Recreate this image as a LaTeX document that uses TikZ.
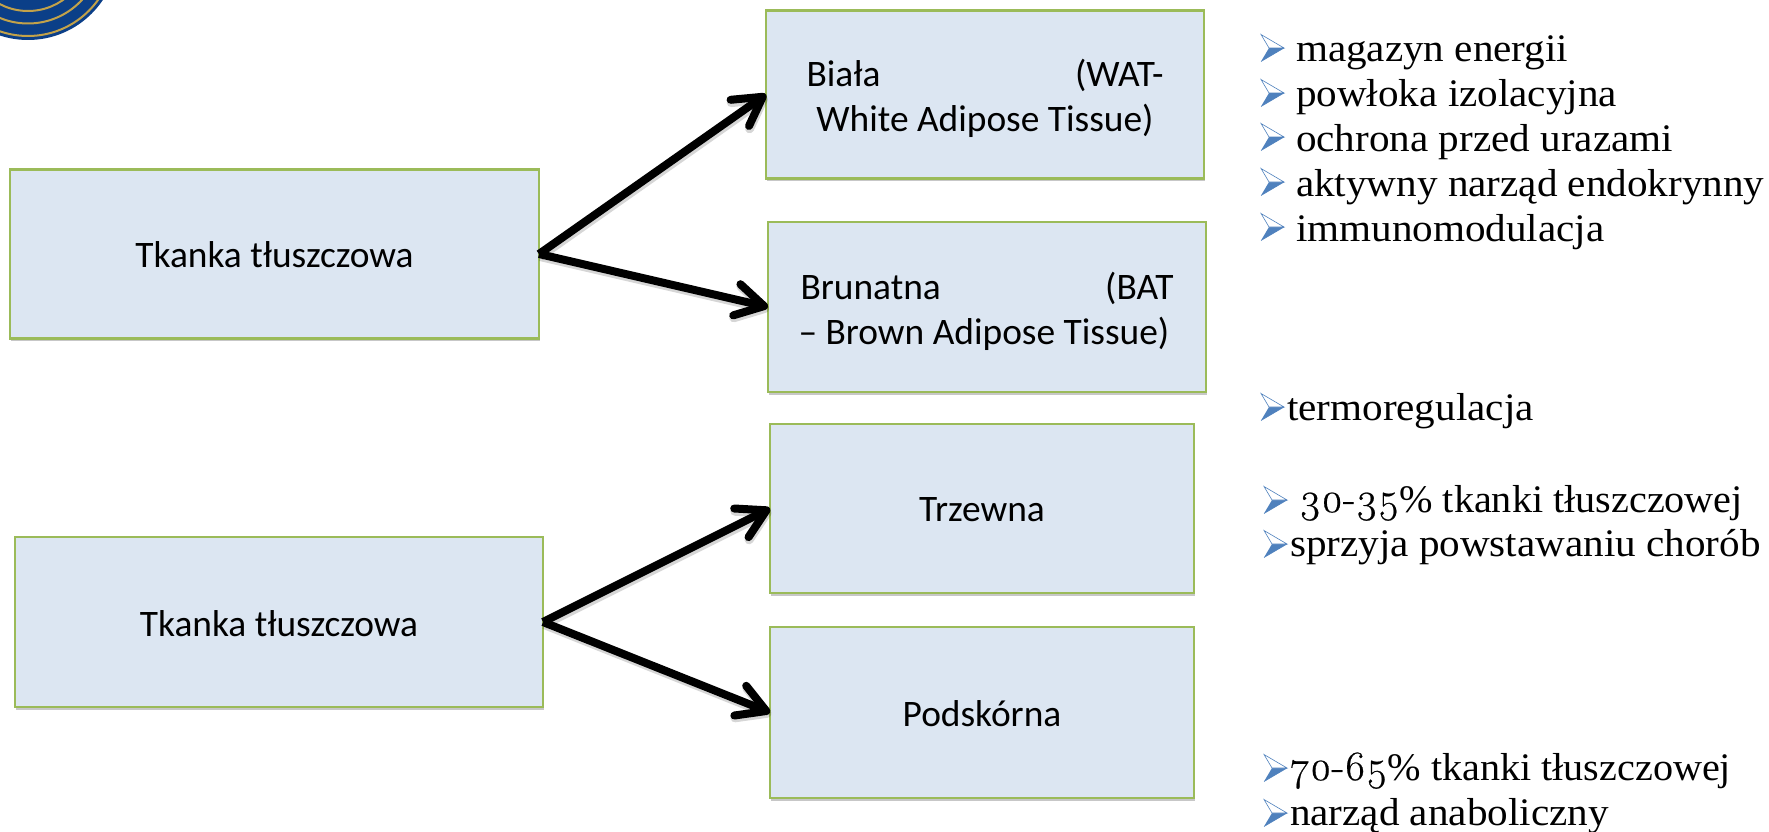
\documentclass[tikz,border=0pt]{standalone}
\usepackage{fontspec}
\usetikzlibrary{arrows.meta,shadows}
\setmainfont{Liberation Serif}
\newfontfamily\boxfont{Carlito}
\newfontfamily\listfont[FakeStretch=1.055]{Liberation Serif}
\newfontfamily\tightlist[FakeStretch=1.03]{Liberation Serif}
\newfontfamily\numfont[Numbers=OldStyle,FakeBold=0.5,Scale=1.07]{Latin Modern Roman}
\definecolor{boxfill}{HTML}{DCE6F2}
\definecolor{boxline}{HTML}{9BBB59}
\definecolor{bulblue}{HTML}{4F81BD}
\definecolor{logoblue}{HTML}{0B3F88}
\definecolor{logogold}{HTML}{C2A24A}
\newcommand\topstrut[1]{\rule{0pt}{#1}}
\tikzset{
  x=1pt,y=-1pt,
  fatbox/.style={draw=boxline,line width=2.4pt,fill=boxfill,rectangle,outer sep=0pt,inner sep=0pt,
    align=center,font=\boxfont\fontsize{37.4}{45}\selectfont,text=black,
    drop shadow={shadow xshift=1pt,shadow yshift=-2.5pt,opacity=.22,fill=black}},
  link/.style={line width=8pt,draw=black,-{Straight Barb[round,length=28pt,width=32pt]}},
  linkshade/.style={line width=9pt,draw=black,opacity=.16,-{Straight Barb[round,length=28pt,width=32pt]},
    transform canvas={xshift=1pt,yshift=-2.5pt}},
  item/.style={anchor=base west,inner sep=0pt,outer sep=0pt,font=\listfont\fontsize{39}{45}\selectfont,text=black},
  bulletmark/.pic={
    \fill[bulblue] (23,0) -- (0,13.5) -- (8,0) -- cycle;
    \filldraw[draw=bulblue,fill=white,line width=.6pt] (23,0) -- (0,-13.5) -- (8,0) -- cycle;
    \draw[bulblue,line width=.6pt] (23,0) -- (0,13.5);
  }
}
\begin{document}
\begin{tikzpicture}
\useasboundingbox (0,0) rectangle (1769,832);
% logo
\begin{scope}
\clip (0,0) rectangle (1769,832);
\fill[logoblue] (28,-50) circle[radius=90];
\foreach \r in {61,73.5,86}{\draw[logogold,line width=2pt] (28,-50) circle[radius=\r];}
\end{scope}
% boxes
\node[fatbox,minimum width=529pt,minimum height=169pt] (t1) at (274.5,254) {\topstrut{28pt}Tkanka tłuszczowa};
\node[fatbox,minimum width=438pt,minimum height=168pt] (wat) at (985,94.5)
  {\topstrut{35pt}\makebox[357pt]{Biała\hfill(WAT-}\\White Adipose Tissue)};
\node[fatbox,minimum width=438pt,minimum height=170pt] (bat) at (987,307)
  {\topstrut{36pt}\makebox[373pt]{Brunatna\hfill(BAT}\\\makebox[373pt][l]{\hspace*{-2pt}– Brown Adipose Tissue)}};
\node[fatbox,minimum width=528pt,minimum height=170pt] (t2) at (279,622) {\topstrut{30pt}Tkanka tłuszczowa};
\node[fatbox,minimum width=424pt,minimum height=169pt] (trz) at (982,508.5) {\topstrut{26pt}Trzewna};
\node[fatbox,minimum width=424pt,minimum height=171pt] (pod) at (982,712.5) {\topstrut{28pt}Podskórna};
% connectors
\draw[linkshade] (t1.east) -- (wat.west);
\draw[linkshade] (t1.east) -- (bat.west);
\draw[linkshade] (t2.east) -- (trz.west);
\draw[linkshade] (t2.east) -- (pod.west);
\draw[link] (t1.east) -- (wat.west);
\draw[link] (t1.east) -- (bat.west);
\draw[link] (t2.east) -- (trz.west);
\draw[link] (t2.east) -- (pod.west);
% lists
\pic at (1261,48) {bulletmark};
\pic at (1261,93) {bulletmark};
\pic at (1261,137) {bulletmark};
\pic at (1261,182) {bulletmark};
\pic at (1261,227) {bulletmark};
\node[item] (a1) at (1296,62) {magazyn energii};
\node[item] (a2) at (1296,107) {powłoka izolacyjna};
\node[item] (a3) at (1296,151) {ochrona przed urazami};
\node[item] (a4) at (1296,196) {aktywny narząd endokrynny};
\node[item] (a5) at (1296,241) {immunomodulacja};
\pic at (1261,407) {bulletmark};
\node[item] (b1) at (1287,420) {termoregulacja};
\pic at (1264,500) {bulletmark};
\node[item] (c1) at (1299,512) {{\numfont 30-35}{\tightlist\% tkanki tłuszczowej}};
\pic at (1264,544) {bulletmark};
\node[item] (c2) at (1290,556) {sprzyja powstawaniu chorób};
\pic at (1264,768) {bulletmark};
\node[item] (d1) at (1290,780) {{\numfont 70-65}{\tightlist\% tkanki tłuszczowej}};
\pic at (1264,813) {bulletmark};
\node[item] (d2) at (1290,825) {narząd anaboliczny};
\end{tikzpicture}
\end{document}
